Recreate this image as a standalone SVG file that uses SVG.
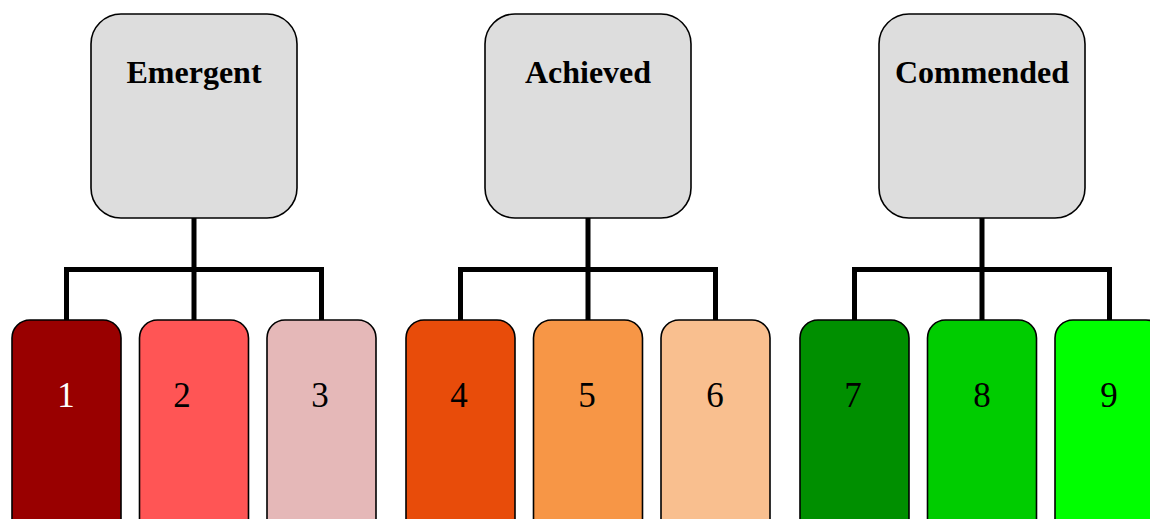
<svg xmlns="http://www.w3.org/2000/svg" width="1150" height="519" viewBox="0 0 1150 519">
<style>
.p{fill:#dddddd;stroke:#000;stroke-width:1.6}
.c{stroke:#000;stroke-width:1.6}
.pt{font-family:"Liberation Serif",serif;font-weight:bold;font-size:32px;text-anchor:middle;fill:#000}
.ct{font-family:"Liberation Serif",serif;font-size:35px;text-anchor:middle;fill:#000}
.ln{fill:none;stroke:#000;stroke-width:5;stroke-linejoin:miter;stroke-linecap:butt}
</style>
<rect width="1150" height="519" fill="#fff"/>
<g id="connectors">
<path class="ln" d="M66.5 320V269.5H321.5V320M194 218V320"/>
<path class="ln" d="M460.5 320V269.5H715.5V320M588 218V320"/>
<path class="ln" d="M854.5 320V269.5H1109.5V320M982 218V320"/>
</g>
<g id="emergent"><rect class="p" x="91" y="14" width="206" height="204" rx="30"/><text class="pt" x="194" y="83">Emergent</text></g>
<g id="achieved"><rect class="p" x="485" y="14" width="206" height="204" rx="30"/><text class="pt" x="588" y="83">Achieved</text></g>
<g id="commended"><rect class="p" x="879" y="14" width="206" height="204" rx="30"/><text class="pt" x="982" y="83">Commended</text></g>
<g id="n1"><rect class="c" x="12" y="320" width="109" height="220" rx="18" fill="#990000"/><text class="ct" x="66" y="407" style="fill:#fff">1</text></g>
<g id="n2"><rect class="c" x="139.5" y="320" width="109" height="220" rx="18" fill="#ff5555"/><text class="ct" x="182" y="407">2</text></g>
<g id="n3"><rect class="c" x="267" y="320" width="109" height="220" rx="18" fill="#e5b8b8"/><text class="ct" x="320" y="407">3</text></g>
<g id="n4"><rect class="c" x="406" y="320" width="109" height="220" rx="18" fill="#e84c0a"/><text class="ct" x="459" y="407">4</text></g>
<g id="n5"><rect class="c" x="533.5" y="320" width="109" height="220" rx="18" fill="#f79646"/><text class="ct" x="587" y="407">5</text></g>
<g id="n6"><rect class="c" x="661" y="320" width="109" height="220" rx="18" fill="#f9bf8f"/><text class="ct" x="715" y="407">6</text></g>
<g id="n7"><rect class="c" x="800" y="320" width="109" height="220" rx="18" fill="#008f00"/><text class="ct" x="853" y="407">7</text></g>
<g id="n8"><rect class="c" x="927.5" y="320" width="109" height="220" rx="18" fill="#00cc00"/><text class="ct" x="982" y="407">8</text></g>
<g id="n9"><rect class="c" x="1055" y="320" width="109" height="220" rx="18" fill="#00ff00"/><text class="ct" x="1109" y="407">9</text></g>
</svg>
